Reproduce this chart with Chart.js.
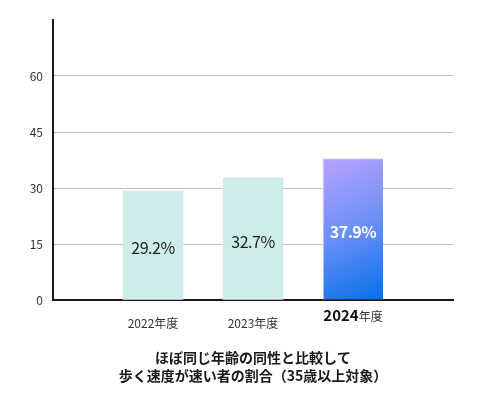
<!DOCTYPE html>
<html lang="ja">
<head>
<meta charset="UTF-8">
<meta name="viewport" content="width=device-width, initial-scale=1.0">
<title>歩く速度が速い者の割合</title>
<script src="https://cdn.jsdelivr.net/npm/chart.js"></script>
<style>
  html, body { margin: 0; padding: 0; background: #fff; }
  .contenedor { position: relative; width: 480px; height: 400px; }
</style>
</head>
<body>
<div class="contenedor">
  <canvas id="grafico"></canvas>
</div>
<script>
// datos
var categorias = ['2022年度', '2023年度', '2024年度'];
var valores = [29.2, 32.7, 37.9];
var ticksY = [0, 15, 30, 45, 60];
var titulo = ['ほぼ同じ年齢の同性と比較して', '歩く速度が速い者の割合（35歳以上対象）'];

var fuente = '"Noto Sans CJK JP", "Noto Sans", sans-serif';
var ejeColor = '#231815';

// the axis has an empty slot on each side of the three bars
var etiquetas = [''].concat(categorias, ['']);
var datos = [null].concat(valores, [null]);
var destacado = etiquetas.length - 2; // last year, drawn bold with gradient

function colorBarra(ctx) {
    if (ctx.dataIndex !== destacado) return '#cdecea';
    var chart = ctx.chart;
    if (!chart.chartArea) return '#5a8cf3';
    var x = chart.scales.x.getPixelForValue(ctx.dataIndex);
    var top = chart.scales.y.getPixelForValue(ctx.raw);
    var g = chart.ctx.createLinearGradient(x - 30, top, x + 30, chart.chartArea.bottom);
    g.addColorStop(0, '#b7a3fd');
    g.addColorStop(0.5, '#6d8ff6');
    g.addColorStop(1, '#0470ea');
    return g;
}

var textos = {
    id: 'textos',
    afterDraw: function(chart) {
        var c = chart.ctx;
        var meta = chart.getDatasetMeta(0);
        var area = chart.chartArea;
        c.save();
        // values inside the bars
        c.letterSpacing = '-0.5px';
        meta.data.forEach(function(bar, i) {
            var v = datos[i];
            if (v == null) return;
            var mid = (bar.y + bar.base) / 2 + 3;
            c.textAlign = 'center';
            c.textBaseline = 'middle';
            if (i === destacado) {
                c.fillStyle = '#ffffff';
                c.font = 'bold 16px ' + fuente;
            } else {
                c.fillStyle = '#222222';
                c.font = '16px ' + fuente;
            }
            c.fillText(v.toFixed(1) + '%', bar.x, mid);
        });
        c.letterSpacing = '0px';

        // highlighted x label: year bold and bigger
        var lab = etiquetas[destacado];
        var m = lab.match(/^(\d+)(.*)$/);
        var xc = chart.scales.x.getPixelForValue(destacado);
        var yb = area.bottom + 21;
        c.font = 'bold 15px ' + fuente;
        var w1 = c.measureText(m[1]).width;
        c.font = '12px ' + fuente;
        var w2 = c.measureText(m[2]).width;
        var x0 = xc - (w1 + w2) / 2;
        c.textAlign = 'left';
        c.textBaseline = 'alphabetic';
        c.fillStyle = '#111111';
        c.font = 'bold 15px ' + fuente;
        c.fillText(m[1], x0, yb);
        c.fillStyle = '#333333';
        c.font = '12px ' + fuente;
        c.fillText(m[2], x0 + w1, yb);

        // title under the chart, centred on the plot area
        var cx = (area.left + area.right) / 2;
        c.textAlign = 'center';
        c.textBaseline = 'middle';
        c.fillStyle = '#1a1a1a';
        c.font = 'bold 14px ' + fuente;
        c.fillText(titulo[0], cx, 358);
        c.fillText(titulo[1], cx, 376);
        c.restore();
    }
};

var ctx = document.getElementById('grafico').getContext('2d');
var grafico = new Chart(ctx, {
    type: 'bar',
    data: {
        labels: etiquetas,
        datasets: [{
            data: datos,
            backgroundColor: colorBarra,
            borderColor: '#dcd8fc',
            borderWidth: function(ctx) {
                return ctx.dataIndex === destacado ? { top: 1, left: 1, right: 0, bottom: 0 } : 0;
            },
            borderSkipped: false,
            barThickness: 60
        }]
    },
    options: {
        responsive: true,
        maintainAspectRatio: false,
        animation: false,
        layout: { padding: { top: 20, right: 27, left: 0, bottom: 0 } },
        plugins: {
            legend: { display: false },
            tooltip: { enabled: false }
        },
        scales: {
            x: {
                type: 'category',
                offset: false,
                grid: { display: false },
                border: { color: ejeColor, width: 2 },
                ticks: {
                    autoSkip: false,
                    maxRotation: 0,
                    padding: 8,
                    color: '#333333',
                    font: { family: fuente, size: 12 },
                    callback: function(val, i) {
                        return i === destacado ? '' : this.getLabelForValue(val);
                    }
                },
                afterFit: function(s) { s.height = 100; }
            },
            y: {
                min: 0,
                max: 75,
                afterBuildTicks: function(s) {
                    s.ticks = ticksY.concat([75]).map(function(v) { return { value: v }; });
                },
                grid: {
                    drawTicks: false,
                    color: function(ctx) {
                        var v = ctx.tick ? ctx.tick.value : 0;
                        return (v === 0 || v === 75) ? 'rgba(0,0,0,0)' : '#bdbdbd';
                    }
                },
                border: { color: ejeColor, width: 2 },
                ticks: {
                    padding: 10,
                    color: '#333333',
                    font: { family: fuente, size: 12 },
                    callback: function(v) { return ticksY.indexOf(v) >= 0 ? v : ''; }
                },
                afterFit: function(s) { s.width = 53; }
            }
        }
    },
    plugins: [textos]
});
</script>
</body>
</html>
